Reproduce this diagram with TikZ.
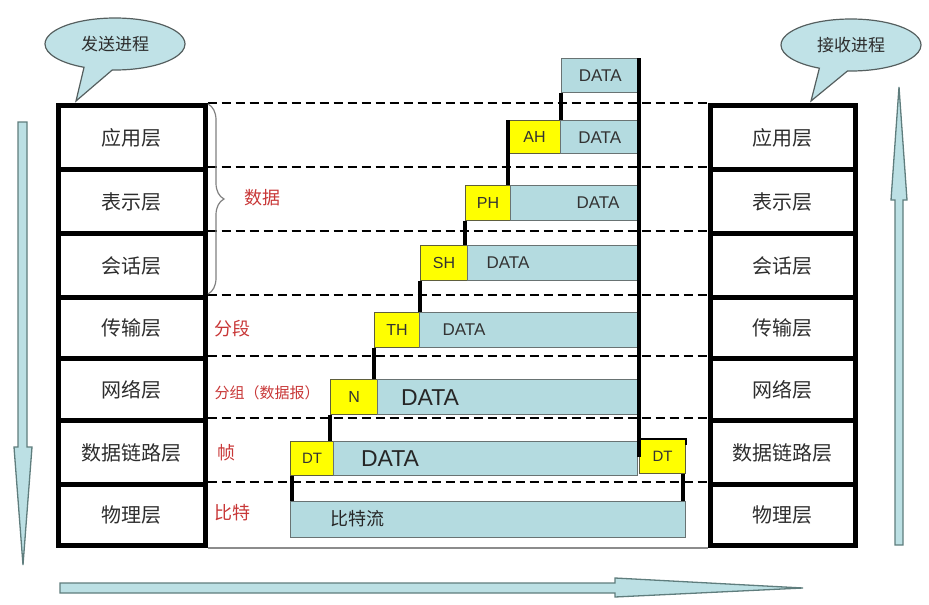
\documentclass[tikz,border=0pt]{standalone}
\usepackage{fontspec}
\setmainfont{Liberation Sans}
\newfontfamily\cjk{Noto Sans CJK SC}
\usetikzlibrary{shapes.callouts,decorations.pathreplacing}
\definecolor{lb}{RGB}{180,219,224}
\definecolor{lbborder}{RGB}{105,115,115}
\definecolor{hyel}{RGB}{255,255,0}
\definecolor{hborder}{RGB}{95,95,60}
\definecolor{callfill}{RGB}{192,226,231}
\definecolor{callborder}{RGB}{85,95,95}
\definecolor{arrfill}{RGB}{188,224,228}
\definecolor{arrborder}{RGB}{95,125,125}
\definecolor{redlbl}{RGB}{200,55,55}
\definecolor{laytxt}{RGB}{45,45,45}
\tikzset{
  layer/.style={draw=black, line width=5pt, anchor=north west, inner sep=0pt,
    text=laytxt, font=\cjk\fontsize{20pt}{23pt}\selectfont},
  hdr/.style={draw=hborder, fill=hyel, line width=1.2pt, anchor=north west, inner sep=0pt,
    text=black!80, font=\fontsize{16pt}{18pt}\selectfont},
  dat/.style={draw=lbborder, fill=lb, line width=1.4pt, anchor=north west, inner sep=0pt},
  dtxt/.style={text=black!80, font=\fontsize{17pt}{19pt}\selectfont},
  dtxtbig/.style={text=black!85, font=\fontsize{23pt}{25pt}\selectfont},
  redtxt/.style={text=redlbl, font=\cjk\fontsize{18pt}{20pt}\selectfont},
  conn/.style={draw=black, line width=4pt},
  sep/.style={draw=black, line width=2pt, dash pattern=on 9pt off 5pt},
  callout/.style={ellipse callout, draw=callborder, fill=callfill, line width=1.2pt,
    minimum width=140pt, minimum height=52pt, callout pointer arc=24,
    text=laytxt, font=\cjk\fontsize{17pt}{19pt}\selectfont},
  bigarrow/.style={draw=arrborder, fill=arrfill, line width=1.3pt, line join=miter}
}
\begin{document}
\begin{tikzpicture}[x=1pt,y=-1pt]
\useasboundingbox (0,0) rectangle (929,605);

% ---------- layer stacks ----------
\foreach \n/\t/\y/\h in {1/应用层/103/64, 2/表示层/167/64, 3/会话层/231/64,
  4/传输层/295/61, 5/网络层/356/62, 6/数据链路层/418/64, 7/物理层/482/61}{
  \node[layer, minimum width=147pt, minimum height=\h pt] (L\n) at (55.5,\y) {\t};
  \node[layer, minimum width=145pt, minimum height=\h pt] (R\n) at (707.5,\y) {\t};
}

% ---------- separators ----------
\foreach \n in {1,...,7}{
  \draw[sep] (L\n.north east) -- (R\n.north west);
}
\draw[draw=black!45, line width=2pt] (L7.south east) -- (R7.south west);

% ---------- brace and labels ----------
\draw[draw=black!50, line width=1.2pt, decorate, decoration={brace, amplitude=16pt}]
  (208,104) -- (208,294);
\node[redtxt] (lblA) at (262,198) {数据};
\node[redtxt, anchor=west] (lblB) at (211,329) {分段};
\node[redtxt, anchor=west, font=\cjk\fontsize{15pt}{17pt}\selectfont] (lblC) at (211,393) {分组（数据报）};
\node[redtxt, anchor=west] (lblD) at (214,453) {帧};
\node[redtxt, anchor=west] (lblE) at (211,513) {比特};

% ---------- packets ----------
\node[dat, minimum width=77pt, minimum height=34pt] (D0) at (561,58) {};
\node[dtxt] at (D0.center) {DATA};

\node[hdr, minimum width=52pt, minimum height=33pt] (H1) at (508,120) {AH};
\node[dat, minimum width=78pt, minimum height=33pt] (D1) at (560,120) {};
\node[dtxt] at (D1.center) {DATA};

\node[hdr, minimum width=45pt, minimum height=35pt] (H2) at (465,185) {PH};
\node[dat, minimum width=130pt, minimum height=35pt] (D2) at (510,185) {};
\node[dtxt] at (598,203) {DATA};

\node[hdr, minimum width=47pt, minimum height=35pt] (H3) at (420,245) {SH};
\node[dat, minimum width=171pt, minimum height=35pt] (D3) at (467,245) {};
\node[dtxt] at (508,263) {DATA};

\node[hdr, minimum width=45pt, minimum height=35pt] (H4) at (374,312) {TH};
\node[dat, minimum width=218pt, minimum height=35pt] (D4) at (419,312) {};
\node[dtxt] at (464,330) {DATA};

\node[hdr, minimum width=47pt, minimum height=35pt] (H5) at (330,379) {N};
\node[dat, minimum width=260pt, minimum height=35pt] (D5) at (377,379) {};
\node[dtxtbig] at (430,398) {DATA};

\node[hdr, minimum width=43pt, minimum height=34pt, font=\fontsize{15pt}{17pt}\selectfont] (H6) at (290,441) {DT};
\node[dat, minimum width=304pt, minimum height=34pt] (D6) at (333,441) {};
\node[dtxtbig] at (390,459) {DATA};
\node[hdr, minimum width=46pt, minimum height=34pt, font=\fontsize{15pt}{17pt}\selectfont] (H6r) at (639,439) {DT};

\node[dat, minimum width=395pt, minimum height=36pt] (B) at (290,501) {};
\node[text=black!85, font=\cjk\fontsize{18pt}{20pt}\selectfont] at (357,519) {比特流};

% ---------- connectors ----------
\draw[conn] (D0.north east) -- (D0.north east |- H6r.west);
\draw[draw=black, line width=2pt] (H6r.north west) -- (H6r.north east) -- ([yshift=-6pt]H6r.north east);
\draw[conn] (D0.south west) -- (D0.south west |- H1.north);
\draw[conn] (H1.north west) -- (H1.south west) -- (H1.south west |- H2.north);
\draw[conn] (H2.south west) -- (H2.south west |- H3.north);
\draw[conn] (H3.south west) -- (H3.south west |- H4.north);
\draw[conn] (H4.south west) -- (H4.south west |- H5.north);
\draw[conn] (H5.south west) -- (H5.south west |- H6.north);
\draw[conn] ([xshift=2pt]H6.south west) -- ([xshift=2pt]H6.south west |- B.north);
\draw[conn] ([xshift=-3pt]H6r.south east) -- ([xshift=-3pt]H6r.south east |- B.north);

% ---------- callouts ----------
\node[callout, callout absolute pointer={(76,101)}] (send) at (115,44) {发送进程};
\node[callout, callout absolute pointer={(811,101)}] (recv) at (851,45) {接收进程};

% ---------- direction arrows ----------
\draw[bigarrow] (18,122) -- (27,122) -- (27,447) -- (32,447) -- (23,565) -- (14,447) -- (18,447) -- cycle;
\draw[bigarrow] (895,545) -- (903,545) -- (903,200) -- (907,200) -- (899,87) -- (891,200) -- (895,200) -- cycle;
\draw[bigarrow] (60,583) -- (615,583) -- (615,578) -- (803,588) -- (615,597) -- (615,593) -- (60,593) -- cycle;
\end{tikzpicture}
\end{document}
